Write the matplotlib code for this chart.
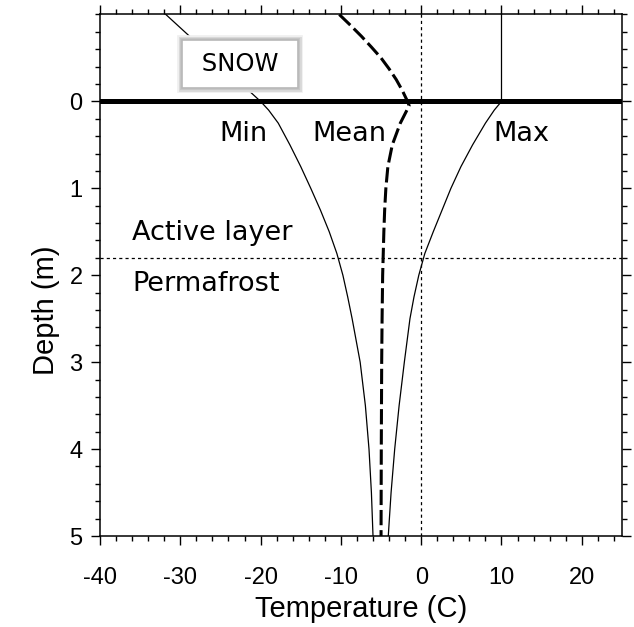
import matplotlib
matplotlib.use("Agg")
import matplotlib.pyplot as plt
from matplotlib.ticker import MultipleLocator

plt.rcParams["axes.unicode_minus"] = False

# depth (m), negative = snow layer above ground
depth_min = [-1.0, 0.0, 0.1, 0.25, 0.5, 0.75, 1.0, 1.25, 1.5, 1.75, 2.0, 2.25, 2.5, 2.75, 3.0, 3.5, 4.0, 4.5, 5.0]
temp_min = [-31.8, -20.0, -19.0, -17.8, -16.35, -15.0, -13.75, -12.55, -11.45, -10.5, -9.75, -9.15, -8.6, -8.1, -7.6, -6.95, -6.5, -6.2, -6.0]

depth_max = [-1.0, 0.0, 0.1, 0.25, 0.5, 0.75, 1.0, 1.25, 1.5, 1.75, 2.0, 2.25, 2.5, 2.75, 3.0, 3.5, 4.0, 4.5, 5.0]
temp_max = [10.0, 10.0, 9.1, 8.0, 6.4, 4.95, 3.7, 2.6, 1.5, 0.45, -0.3, -0.9, -1.4, -1.75, -2.1, -2.75, -3.3, -3.75, -4.1]

depth_mean = [-1.0, -0.875, -0.75, -0.625, -0.5, -0.375, -0.25, -0.125, 0.0, 0.05,
              0.25, 0.5, 0.75, 1.0, 1.25, 1.5, 2.0, 2.5, 3.0, 4.0, 5.0]
temp_mean = [-10.2, -8.8, -7.45, -6.2, -5.0, -4.0, -3.1, -2.35, -1.7, -1.5,
             -2.6, -3.6, -4.15, -4.4, -4.55, -4.65, -4.8, -4.87, -4.92, -4.97, -5.0]

active_depth = 1.8
lab_font = ["DejaVu Sans"]
ax_font = ["Liberation Sans", "DejaVu Sans"]

fig = plt.figure(figsize=(6.34, 6.27), dpi=100)
ax = fig.add_axes([0.1577, 0.1451, 0.8233, 0.8318])

ax.plot(temp_min, depth_min, color="black", lw=0.9)
ax.plot(temp_max, depth_max, color="black", lw=0.9)
ax.plot(temp_mean, depth_mean, color="black", lw=2.2, dashes=(5, 1.6))

ax.axhline(0, color="black", lw=3.6, zorder=4)
ax.axhline(active_depth, color="black", lw=0.9, dashes=(2.5, 2.5))
ax.axvline(0, color="black", lw=0.9, dashes=(2.5, 2.5))

ax.text(-22.1, 0.45, "Min", fontsize=19.5, family=lab_font, ha="center", va="baseline")
ax.text(-9.0, 0.45, "Mean", fontsize=19.5, family=lab_font, ha="center", va="baseline")
ax.text(12.5, 0.45, "Max", fontsize=19.5, family=lab_font, ha="center", va="baseline")
ax.text(-36.0, 1.6, "Active layer", fontsize=19.5, family=lab_font, ha="left", va="baseline")
ax.text(-36.0, 2.18, "Permafrost", fontsize=19.5, family=lab_font, ha="left", va="baseline")

# blurred grey frame around SNOW
for lw, ec in [(7, "#efefef"), (5, "#dadada"), (3, "#c6c6c6"), (1.2, "#b8b8b8")]:
    ax.text(-22.6, -0.43, " SNOW ", fontsize=17.5, family=lab_font, ha="center", va="center",
            zorder=5, bbox=dict(boxstyle="square,pad=0.48", fc="white", ec=ec, lw=lw))

ax.set_xlim(-40, 25)
ax.set_ylim(5, -1)
ax.set_yticks([0, 1, 2, 3, 4, 5])
ax.xaxis.set_major_locator(MultipleLocator(10))
ax.xaxis.set_minor_locator(MultipleLocator(2))
ax.yaxis.set_minor_locator(MultipleLocator(0.2))
ax.tick_params(which="both", direction="out", top=True, right=True, width=1.0)
ax.tick_params(which="major", length=6.5, labelsize=17)
ax.tick_params(which="minor", length=3.5)
ax.tick_params(axis="x", which="major", pad=16)
ax.tick_params(axis="y", which="major", pad=6)
for lbl in ax.get_xticklabels() + ax.get_yticklabels():
    lbl.set_family(ax_font)
for s in ax.spines.values():
    s.set_linewidth(1.1)

ax.set_xlabel("Temperature (C)", fontsize=21, family=ax_font, labelpad=4)
ax.set_ylabel("Depth (m)", fontsize=21, family=ax_font, labelpad=7)
ax.yaxis.label.set_y(0.433)  # centred on the ground part of the axis

fig.savefig("out.png", dpi=100)
